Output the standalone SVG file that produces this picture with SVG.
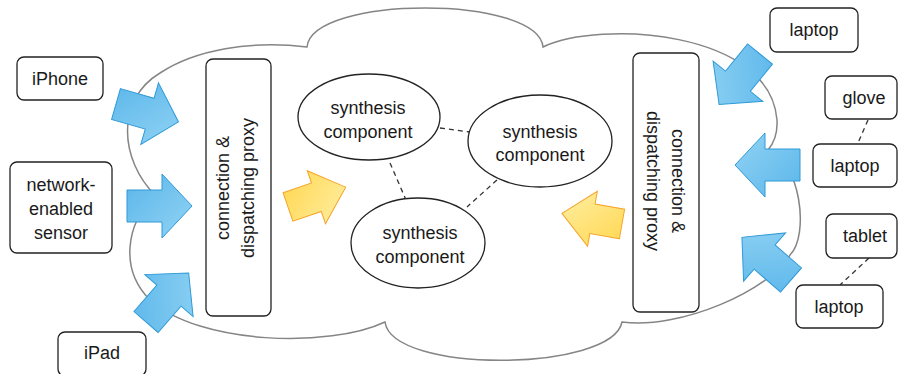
<svg xmlns="http://www.w3.org/2000/svg" width="902" height="374" viewBox="0 0 902 374">
<defs>
<linearGradient id="gBlue" x1="0" y1="0" x2="1" y2="1">
<stop offset="0" stop-color="#5ab6ea"/>
<stop offset="1" stop-color="#92d3f4"/>
</linearGradient>
<linearGradient id="gYel" x1="0" y1="0" x2="1" y2="1">
<stop offset="0" stop-color="#ffd64f"/>
<stop offset="1" stop-color="#fff0a6"/>
</linearGradient>
<polygon id="blueArrow" points="0,-16 35,-16 35,-32 65,0 35,32 35,16 0,16"/>
<polygon id="yelArrow" points="0,-15 30,-15 30,-28 61,0 30,28 30,15 0,15"/>
</defs>
<style>
text{font-family:"Liberation Sans",Arial,sans-serif;font-size:18px;fill:#1a1a1a;text-anchor:middle}
.box{fill:#fff;stroke:#222;stroke-width:1.3}
.ell{fill:#fff;stroke:#222;stroke-width:1.3}
.cloud{fill:none;stroke:#858585;stroke-width:1.5}
.dash{stroke:#333;stroke-width:1.3;stroke-dasharray:5,4;fill:none}
.blue{fill:url(#gBlue);stroke:#2f9ad6;stroke-width:1}
.yel{fill:url(#gYel);stroke:#f5a42a;stroke-width:1}
</style>
<rect width="902" height="374" fill="#fff"/>
<g id="cloud">
<path class="cloud" d="M307,47 C312,-5 538,-5 543,47 C600,20 770,30 777,120 Q778,138 768,150 C800,160 810,235 790,255 C770,290 680,330 622,322 C612,372 392,374 385,322 C330,348 200,345 150,300 C120,270 125,225 155,195 C120,160 115,100 160,73 C195,50 250,40 307,47 Z"/>
</g>
<g id="proxy-left">
<rect class="box" x="206" y="59" width="65" height="257" rx="7"/>
<g transform="translate(238,188) rotate(-90)">
<text x="0" y="-9">connection &amp;</text>
<text x="0" y="16">dispatching proxy</text>
</g>
</g>
<g id="proxy-right">
<rect class="box" x="633" y="53" width="66" height="259" rx="7"/>
<g transform="translate(666,181) rotate(90)">
<text x="0" y="-6">connection &amp;</text>
<text x="0" y="19">dispatching proxy</text>
</g>
</g>
<g id="connectors">
<line class="dash" x1="440" y1="128" x2="470" y2="132"/>
<line class="dash" x1="390" y1="163" x2="406" y2="200"/>
<line class="dash" x1="497" y1="180" x2="467" y2="207"/>
<line class="dash" x1="868" y1="120" x2="858" y2="143"/>
<line class="dash" x1="869" y1="258" x2="840" y2="285"/>
</g>
<g id="synth1">
<ellipse class="ell" cx="369" cy="117" rx="71" ry="43"/>
<text x="368" y="114">synthesis</text>
<text x="368" y="138">component</text>
</g>
<g id="synth2">
<ellipse class="ell" cx="540" cy="141" rx="72" ry="46"/>
<text x="540" y="138">synthesis</text>
<text x="540" y="161">component</text>
</g>
<g id="synth3">
<ellipse class="ell" cx="418" cy="243" rx="67" ry="45"/>
<text x="420" y="239">synthesis</text>
<text x="420" y="263">component</text>
</g>
<g id="arrows">
<use href="#blueArrow" class="blue" transform="translate(116,104) rotate(16)"/>
<use href="#blueArrow" class="blue" transform="translate(127,206)"/>
<use href="#blueArrow" class="blue" transform="translate(146,322) rotate(-49)"/>
<use href="#blueArrow" class="blue" transform="translate(760,54) rotate(129)"/>
<use href="#blueArrow" class="blue" transform="translate(800,165) rotate(180)"/>
<use href="#blueArrow" class="blue" transform="translate(791,280) rotate(221)"/>
<use href="#yelArrow" class="yel" transform="translate(288,207) rotate(-19)"/>
<use href="#yelArrow" class="yel" transform="translate(622,224) rotate(190)"/>
</g>
<g id="iphone">
<rect class="box" x="17" y="57" width="86" height="43" rx="7"/>
<text x="60" y="85">iPhone</text>
</g>
<g id="sensor">
<rect class="box" x="10" y="162" width="102" height="91" rx="7"/>
<text x="61" y="191">network-</text>
<text x="61" y="215">enabled</text>
<text x="61" y="239">sensor</text>
</g>
<g id="ipad">
<rect class="box" x="58" y="332" width="88" height="44" rx="7"/>
<text x="102" y="359">iPad</text>
</g>
<g id="laptop1">
<rect class="box" x="770" y="8" width="88" height="44" rx="7"/>
<text x="814" y="36">laptop</text>
</g>
<g id="glove">
<rect class="box" x="825" y="76" width="72" height="43" rx="7"/>
<text x="864" y="104">glove</text>
</g>
<g id="laptop2">
<rect class="box" x="813" y="144" width="84" height="43" rx="7"/>
<text x="855" y="172">laptop</text>
</g>
<g id="tablet">
<rect class="box" x="826" y="214" width="71" height="44" rx="7"/>
<text x="865" y="242">tablet</text>
</g>
<g id="laptop3">
<rect class="box" x="796" y="285" width="87" height="43" rx="7"/>
<text x="839" y="313">laptop</text>
</g>
</svg>
